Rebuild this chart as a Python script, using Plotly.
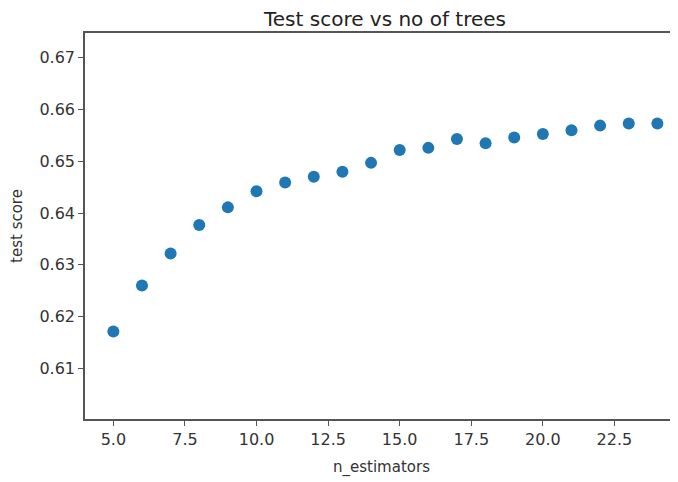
import plotly.graph_objects as go

n_estimators = list(range(5, 25))
test_score = [0.6171, 0.6260, 0.6322, 0.6377, 0.6411, 0.6442, 0.6459, 0.6470,
              0.6480, 0.6497, 0.6522, 0.6526, 0.6543, 0.6535, 0.6546, 0.6553,
              0.6560, 0.6569, 0.6573, 0.6573]
x_ticks = [5.0, 7.5, 10.0, 12.5, 15.0, 17.5, 20.0, 22.5]
y_ticks = [0.61, 0.62, 0.63, 0.64, 0.65, 0.66, 0.67]

fig = go.Figure(go.Scatter(
    x=n_estimators, y=test_score, mode="markers",
    marker=dict(color="#1f77b4", size=12, line=dict(width=0)),
))

font = dict(family="DejaVu Sans, sans-serif", color="#333333", size=16)
fig.update_layout(
    width=670, height=474,
    margin=dict(l=77, r=0, t=25, b=63),
    paper_bgcolor="white", plot_bgcolor="white",
    font=font,
    showlegend=False,
    title=dict(text="Test score vs no of trees", x=377 / 670, xanchor="center",
               y=1 - 11 / 474, yanchor="middle", font=dict(size=20, color="#222222")),
)
fig.update_xaxes(
    range=[4.01, 24.72], tickvals=x_ticks, tickformat=".1f",
    showgrid=False, zeroline=False, showline=True, linecolor="#555555",
    linewidth=1.5, mirror=True, ticks="outside", ticklen=5, tickcolor="#555555",
    automargin=False,
    title=dict(text="n_estimators", standoff=14, font=dict(size=15)),
)
fig.update_yaxes(
    range=[0.6002, 0.6748], tickvals=y_ticks, tickformat=".2f",
    showgrid=False, zeroline=False, showline=True, linecolor="#555555",
    linewidth=1.5, mirror=False, ticks="outside", ticklen=5, tickcolor="#555555",
    automargin=False,
    title=dict(text="test score", standoff=16, font=dict(size=15)),
)
fig.write_html("out.html")
